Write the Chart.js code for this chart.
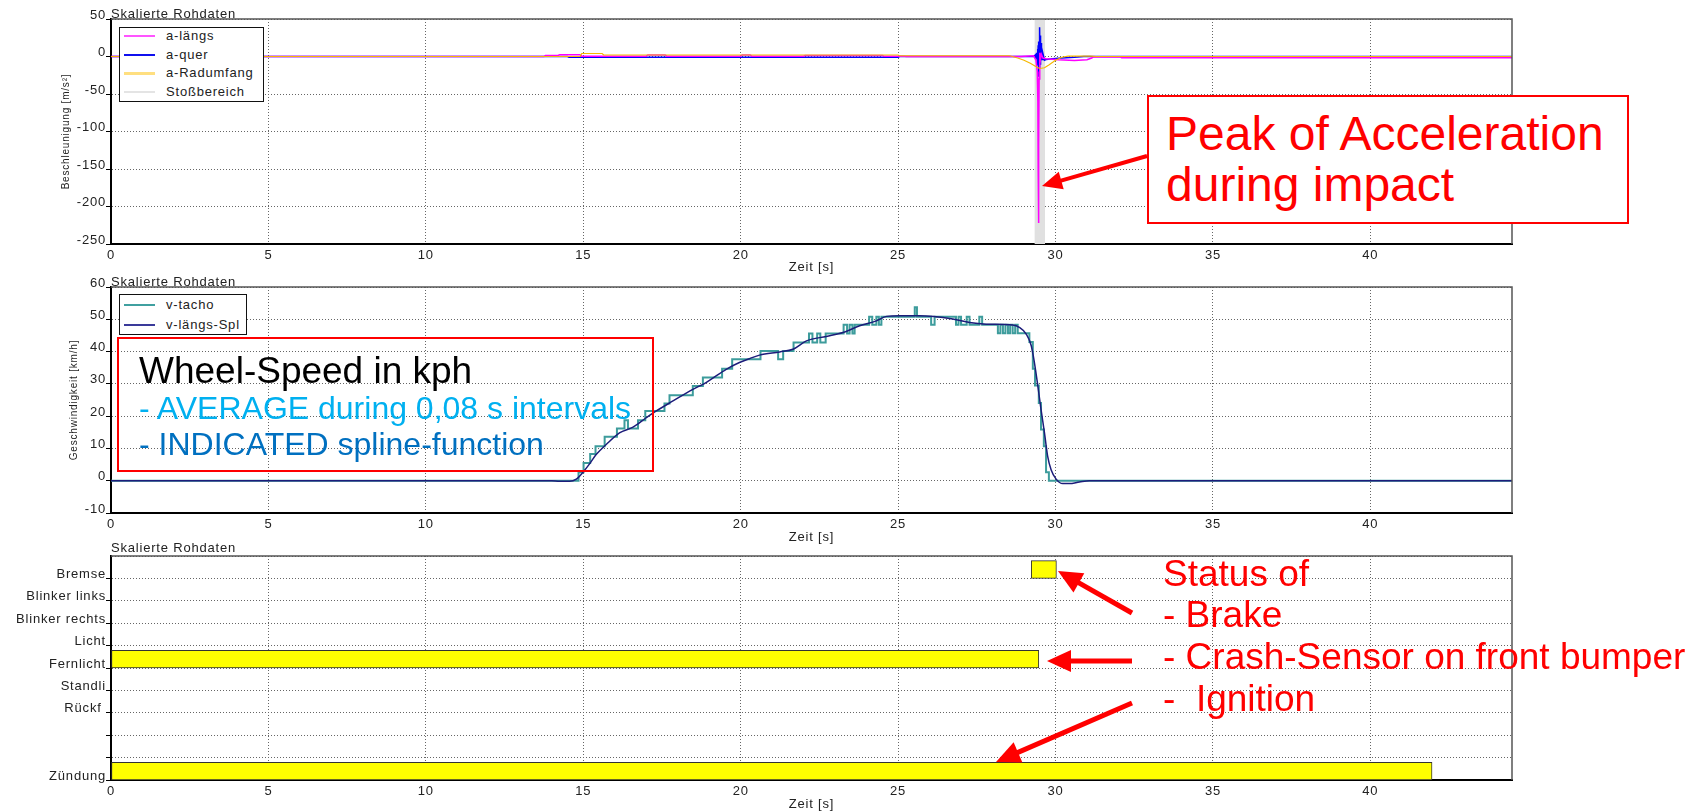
<!DOCTYPE html>
<html><head><meta charset="utf-8">
<script src="https://cdn.jsdelivr.net/npm/chart.js@4/dist/chart.umd.min.js"></script>
<style>
html,body{margin:0;padding:0;background:#fff;}
#wrap{position:relative;width:1706px;height:812px;overflow:hidden;font-family:"Liberation Sans",Arial,sans-serif;}
#wrap canvas{position:absolute;left:0;}
.leg{position:absolute;background:#fff;border:1.5px solid #111;box-sizing:border-box;z-index:3;}
.leg .sw{position:absolute;left:4px;width:31px;}
.leg .tx{position:absolute;left:46px;font-size:13px;letter-spacing:0.8px;color:#222;line-height:14px;white-space:nowrap;}
svg{position:absolute;left:0;top:0;z-index:4;pointer-events:none;}
.ann{position:absolute;z-index:5;white-space:pre;line-height:1;}
</style>
</head><body>
<div id="wrap">
<canvas id="c1" width="1706" height="275" style="top:0px"></canvas>
<canvas id="c2" width="1706" height="283" style="top:262px"></canvas>
<canvas id="c3" width="1706" height="282" style="top:530px"></canvas>
<svg id="ann" width="1706" height="812"></svg>
</div>
<script>
// ---------- data ----------
const xTicks = [0, 5, 10, 15, 20, 25, 30, 35, 40];

// acceleration (top panel)
const aLaengsT = [0, 13.75, 13.8, 14.2, 14.25, 14.9, 14.95, 17.0, 17.05, 17.6, 17.65, 20.0, 20.05, 20.3, 20.35, 22.0, 22.05, 24.5, 24.55, 25.2, 25.25, 28.9, 29.3, 29.38, 29.42, 29.44, 29.45, 29.46, 29.47, 29.48, 29.5, 29.52, 29.55, 29.6, 29.7, 30.1, 30.6, 31.0, 31.15, 31.2, 32.05, 32.1, 44.5];
const aLaengsV = [0, 0, 1.5, 1.5, 2.5, 2.5, 0.5, 0.5, 2, 2, 0.5, 0.5, 2, 2, 0.5, 0.5, 1.5, 1.5, 0.5, 0.5, 0, 0, 1, -5, -20, -60, -150, -222, -120, -30, 5, -5, 3, -2, -3, -4.4, -5.3, -4.4, -2, -0.5, -0.5, -1.5, -1.5];
const aQuerT = [0, 14.5, 14.55, 25.0, 25.05, 29.3, 29.36, 29.38, 29.4, 29.42, 29.43, 29.44, 29.45, 29.46, 29.47, 29.48, 29.49, 29.5, 29.51, 29.52, 29.53, 29.54, 29.55, 29.56, 29.58, 29.6, 29.65, 29.7, 29.9, 30.2, 30.6, 30.9, 31.1, 44.5];
const aQuerV = [0, 0, -1, -1, 0, 0, 2, -3, 5, -6, 10, -12, 15, -27, 20, -15, 25, 39, -10, 28, -8, 18, -5, 10, -4, 4, -5, -4, -3, -2, -1, 0, 0, 0];
const aRadT = [0, 14.9, 14.95, 15.6, 15.65, 25.0, 25.05, 28.54, 28.8, 29.0, 29.2, 29.4, 29.5, 29.65, 29.8, 30.0, 30.2, 30.4, 31.1, 31.3, 44.5];
const aRadV = [0, 0, 4, 4, 2, 2, 1, 1, -2, -5, -9, -14, -16, -15, -11, -5, -1, 0.5, 0.5, 0, 0];
const impactT = [29.33, 29.67];
const impactV = [50, 50];

// speed (middle panel)
const tachoT = [0, 14.85, 15.01, 15.22, 15.39, 15.68, 16.07, 16.31, 16.42, 16.74, 16.97, 17.58, 17.74, 18.48, 18.8, 19.41, 19.73, 20.63, 21.19, 21.35, 21.68, 22.17, 22.28, 22.43, 22.53, 22.7, 23.27, 23.38, 23.46, 23.55, 23.62, 24.08, 24.18, 24.31, 24.39, 24.47, 25.53, 25.6, 26.05, 26.16, 26.84, 26.92, 27.0, 27.18, 27.27, 27.58, 27.67, 28.17, 28.25, 28.33, 28.41, 28.49, 28.56, 28.64, 28.72, 28.8, 29.17, 29.28, 29.35, 29.47, 29.54, 29.63, 29.7, 29.79, 44.5];
const tachoV = [0, 2.6, 5.5, 8.3, 10.7, 13.6, 16.2, 18.7, 16.2, 18.7, 21.6, 23.9, 26.5, 29.3, 32.0, 34.7, 37.6, 40.2, 37.6, 40.2, 42.8, 45.6, 42.8, 45.6, 42.8, 45.6, 48.3, 45.6, 48.3, 45.6, 48.3, 50.8, 48.3, 50.8, 48.3, 50.8, 53.7, 50.8, 48.3, 50.8, 48.3, 50.8, 48.3, 50.8, 48.3, 50.8, 48.3, 45.7, 48.3, 45.7, 48.3, 45.7, 48.3, 45.7, 48.3, 45.7, 43.0, 34.7, 29.5, 24.1, 15.9, 10.7, 2.6, 0, 0];
const splT = [0, 14.0, 14.25, 14.57, 14.78, 14.99, 15.2, 15.41, 15.73, 16.15, 16.58, 17.0, 17.32, 17.85, 18.48, 18.9, 19.54, 19.96, 20.28, 20.6, 21.24, 21.66, 22.09, 22.72, 23.25, 23.78, 24.31, 24.63, 25.05, 25.68, 26.74, 27.27, 27.8, 28.64, 28.85, 29.07, 29.23, 29.33, 29.44, 29.54, 29.65, 29.75, 29.86, 30.02, 30.23, 30.44, 30.76, 31.08, 44.5];
const splV = [0, 0, -0.2, -0.2, 0.5, 2.6, 5.2, 8.1, 11.2, 14.8, 16.6, 19.5, 21.6, 24.7, 28.3, 30.4, 34.5, 36.6, 37.8, 38.9, 39.9, 40.7, 43.3, 44.7, 45.9, 48.0, 49.5, 50.9, 51.1, 51.1, 50.1, 49.0, 48.5, 48.2, 47.5, 45.4, 41.8, 36.6, 29.3, 22.1, 14.8, 7.6, 3.4, 0.5, -0.9, -0.9, -0.4, 0, 0];

// status signals (bottom panel)
const sigLabels = ['Zündung', '', '', 'Rückf ', 'Standli', 'Fernlicht', 'Licht', 'Blinker rechts', 'Blinker links', 'Bremse'];
const onLevel = [9, 5, 0];
const onStart = [29.23, 0, 0];
const onEnd = [30.03, 29.47, 41.96];
const onHeight = 0.79;

// ---------- helpers ----------
const FONT = '"Liberation Sans", Arial, sans-serif';
Chart.defaults.font.family = FONT;
const pts = (t, v) => t.map((x, i) => ({x: x, y: v[i]}));

const spacing = {
  id: 'spacing',
  beforeUpdate(c) { c.ctx.letterSpacing = '0.8px'; },
  beforeDraw(c) { c.ctx.letterSpacing = '0.8px'; }
};
const frame = {
  id: 'frame',
  afterDraw(c, args, o) {
    const ctx = c.ctx, a = c.chartArea;
    ctx.save();
    ctx.setLineDash([]);
    ctx.strokeStyle = '#555';
    ctx.lineWidth = 1.5;
    ctx.beginPath();
    ctx.moveTo(a.left, a.top); ctx.lineTo(a.right, a.top); ctx.lineTo(a.right, a.bottom);
    ctx.stroke();
    ctx.letterSpacing = '0.8px';
    ctx.fillStyle = '#222';
    ctx.font = '13px ' + FONT;
    ctx.textAlign = 'left';
    ctx.textBaseline = 'alphabetic';
    ctx.fillText(o.title, a.left, a.top - o.gap);
    ctx.restore();
  }
};

function xAxis(h) {
  return {
    type: 'linear', min: 0, max: 44.5,
    afterFit(s) { s.height = h; },
    afterBuildTicks(s) { s.ticks = xTicks.map(v => ({value: v})); },
    border: {color: '#000', width: 2, dash: [1, 2]},
    grid: {color: '#666', drawTicks: false, lineWidth: 1},
    ticks: {padding: 4, color: '#222', font: {size: 13}, maxRotation: 0, autoSkip: false},
    title: {display: true, text: 'Zeit [s]', color: '#222', font: {size: 13}, padding: {top: 0, bottom: 0}}
  };
}
function yAxis(min, max, step, title, tpad, cb) {
  const ax = {
    type: 'linear', min: min, max: max,
    afterFit(s) { s.width = 111; },
    border: {color: '#000', width: 2, dash: [1, 2]},
    grid: {color: '#666', lineWidth: 1, tickLength: 5,
      tickColor: (ctx) => (ctx.tick && ctx.tick.value === max && cb) ? 'rgba(0,0,0,0)' : '#000',
      tickBorderDash: [0, 0], tickWidth: 1},
    ticks: {stepSize: step, padding: 0, labelOffset: -4, color: '#222', font: {size: 13}, autoSkip: false},
  };
  if (cb) ax.ticks.callback = cb;
  if (title) ax.title = {display: true, text: title, color: '#222', font: {size: 10}, padding: {top: tpad, bottom: 0}};
  return ax;
}
const baseOpts = (pad, title, gap) => ({
  responsive: false, animation: false, devicePixelRatio: 1,
  layout: {padding: {top: pad, right: 194, left: 0, bottom: 0}},
  plugins: {legend: {display: false}, tooltip: {enabled: false}, frame: {title: title, gap: gap}},
  events: []
});

// ---------- chart 1 : acceleration ----------
const o1 = baseOpts(19, 'Skalierte Rohdaten', 1);
o1.scales = {x: xAxis(31), y: yAxis(-250, 50, 50, 'Beschleunigung [m/s²]', 60)};
const ds1 = [
  {label: 'a-längs', data: pts(aLaengsT, aLaengsV), borderColor: '#ff00ff', borderWidth: 1.5, order: 2},
  {label: 'a-quer', data: pts(aQuerT, aQuerV), borderColor: '#0000ff', borderWidth: 1.5, order: 3},
  {label: 'a-Radumfang', data: pts(aRadT, aRadV), borderColor: '#f5b800', borderWidth: 1.2, order: 1},
  {label: 'Stoßbereich', data: pts(impactT, impactV), borderColor: 'rgba(0,0,0,0)', borderWidth: 0, backgroundColor: '#e0e0e0', fill: 'start', order: 10}
];
ds1.forEach(d => { d.pointRadius = 0; d.tension = 0; });
new Chart(document.getElementById('c1'), {type: 'line', data: {datasets: ds1}, options: o1, plugins: [spacing, frame]});

// ---------- chart 2 : speed ----------
const o2 = baseOpts(25, 'Skalierte Rohdaten', 1);
o2.scales = {x: xAxis(32), y: yAxis(-10, 60, 10, 'Geschwindigkeit [km/h]', 68)};
const ds2 = [
  {label: 'v-tacho', data: pts(tachoT, tachoV), borderColor: '#3d9c9c', borderWidth: 2, stepped: 'before', order: 2},
  {label: 'v-längs-Spl', data: pts(splT, splV), borderColor: '#1c1c7a', borderWidth: 1.5, cubicInterpolationMode: 'monotone', order: 1}
];
ds2.forEach(d => { d.pointRadius = 0; });
new Chart(document.getElementById('c2'), {type: 'line', data: {datasets: ds2}, options: o2, plugins: [spacing, frame]});

// ---------- chart 3 : status ----------
const o3 = baseOpts(26, 'Skalierte Rohdaten', 4);
o3.indexAxis = 'y';
const y3 = yAxis(0, 10, 1, null, 0, (v) => (sigLabels[v] !== undefined ? sigLabels[v] : ''));
y3.offset = false; y3.grid.offset = false;
o3.scales = {x: xAxis(32), y: y3};
const bars = onLevel.map((lv, i) => ({y: lv + onHeight / 2, x: [onStart[i], onEnd[i]]}));
new Chart(document.getElementById('c3'), {
  type: 'bar',
  data: {datasets: [{label: 'Status', data: bars, backgroundColor: '#ffff00', borderColor: '#333', borderWidth: 1, borderSkipped: false, barThickness: 22.4 * onHeight, grouped: false}]},
  options: o3, plugins: [spacing, frame]
});

// ---------- legends ----------
const wrap = document.getElementById('wrap');
function legend(left, top, w, h, items, rowTop, rowGap) {
  const d = document.createElement('div');
  d.className = 'leg';
  Object.assign(d.style, {left: left + 'px', top: top + 'px', width: w + 'px', height: h + 'px'});
  items.forEach((it, i) => {
    const cy = rowTop + i * rowGap;
    const s = document.createElement('div'); s.className = 'sw';
    Object.assign(s.style, {top: (cy - it.w / 2) + 'px', height: it.w + 'px', background: it.c});
    const t = document.createElement('div'); t.className = 'tx';
    t.style.top = (cy - 7) + 'px'; t.textContent = it.t;
    d.appendChild(s); d.appendChild(t);
  });
  wrap.appendChild(d);
}
legend(119, 27, 145, 75, [
  {t: 'a-längs', c: '#ff55ff', w: 2}, {t: 'a-quer', c: '#1010ee', w: 2},
  {t: 'a-Radumfang', c: '#ffdf80', w: 3}, {t: 'Stoßbereich', c: '#e4e4e4', w: 2}], 8, 18.7);
legend(119, 294, 128, 41, [
  {t: 'v-tacho', c: '#40a0a0', w: 2}, {t: 'v-längs-Spl', c: '#3a3a9a', w: 2}], 10, 19.5);

// ---------- annotations ----------
const svg = document.getElementById('ann');
const NS = 'http://www.w3.org/2000/svg';
function el(tag, attrs) { const e = document.createElementNS(NS, tag); for (const k in attrs) e.setAttribute(k, attrs[k]); svg.appendChild(e); return e; }
el('rect', {x: 1148, y: 96, width: 480, height: 127, fill: '#fff', stroke: '#ff0000', 'stroke-width': 2});
el('rect', {x: 118, y: 338, width: 535, height: 133, fill: 'none', stroke: '#ff0000', 'stroke-width': 2});
function arrow(x1, y1, x2, y2, L, W, sw) {
  const dx = x2 - x1, dy = y2 - y1, len = Math.hypot(dx, dy), ux = dx / len, uy = dy / len;
  const bx = x2 - ux * L, by = y2 - uy * L, nx = -uy, ny = ux;
  el('line', {x1: x1, y1: y1, x2: bx + ux * 2, y2: by + uy * 2, stroke: '#ff0000', 'stroke-width': sw});
  el('polygon', {points: `${x2},${y2} ${bx + nx * W},${by + ny * W} ${bx - nx * W},${by - ny * W}`, fill: '#ff0000'});
}
arrow(1147, 156, 1042, 186, 20, 9, 4);
arrow(1132, 613, 1058, 571, 24, 11, 5);
arrow(1132, 661, 1047, 661, 24, 11, 5);
arrow(1132, 703, 996, 762, 24, 11, 5);

function text(str, left, baseline, size, color) {
  const d = document.createElement('div');
  d.className = 'ann';
  d.textContent = str;
  Object.assign(d.style, {left: left + 'px', top: (baseline - size * 0.905) + 'px', fontSize: size + 'px', color: color});
  wrap.appendChild(d);
}
text('Peak of Acceleration', 1166, 153, 48, '#ff0000');
text('during impact', 1166, 204, 48, '#ff0000');
text('Wheel-Speed in kph', 139, 385, 37, '#000000');
text('- AVERAGE during 0,08 s intervals', 139, 421, 32, '#00b0f0');
text('- INDICATED spline-function', 139, 457, 32, '#0070c0');
text('Status of', 1163, 588, 37, '#ff0000');
text('- Brake', 1163, 629, 37, '#ff0000');
text('- Crash-Sensor on front bumper', 1163, 671, 37, '#ff0000');
text('-  Ignition', 1163, 713, 37, '#ff0000');
</script>
</body></html>
